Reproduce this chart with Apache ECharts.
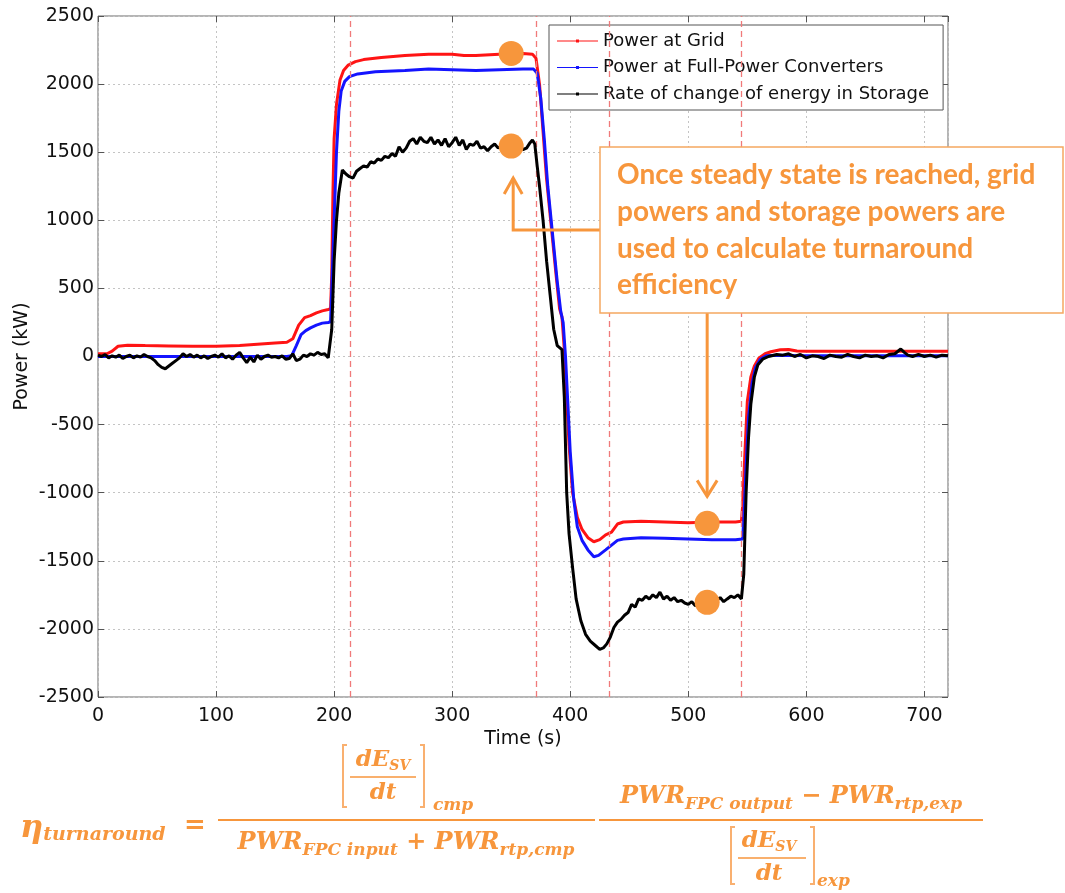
<!DOCTYPE html>
<html><head><meta charset="utf-8">
<script src="https://cdn.jsdelivr.net/npm/echarts@6/dist/echarts.min.js"></script>
<style>html,body{margin:0;padding:0;background:#fff}#c{width:1065px;height:893px}</style>
</head><body><div id="c"></div>
<script>
// ---------------- DATA ----------------
const seriesNames = ['Power at Grid', 'Power at Full-Power Converters', 'Rate of change of energy in Storage'];
// [time (s), power (kW)]
const gridPower = [[0,20],[8,22],[12,40],[17,75],[25,82],[40,80],[60,78],[80,75],[100,75],[120,80],[135,90],[150,100],[160,105],[165,130],[170,230],[175,285],[180,300],[185,320],[190,335],[195,345],[197,350],[198,600],[199,1200],[200,1600],[202,1850],[205,2030],[208,2100],[212,2140],[218,2165],[225,2180],[240,2195],[260,2210],[280,2220],[300,2220],[310,2210],[320,2210],[340,2220],[360,2225],[368,2220],[371,2190],[374,2000],[377,1650],[380,1300],[384,950],[388,600],[391,350],[393,290],[395,50],[397,-300],[399,-650],[402,-1000],[406,-1180],[410,-1270],[415,-1330],[420,-1360],[425,-1345],[430,-1310],[435,-1290],[440,-1230],[445,-1215],[460,-1210],[480,-1215],[500,-1220],[520,-1215],[540,-1215],[545,-1210],[546,-1100],[548,-700],[550,-330],[553,-150],[556,-70],[560,-10],[565,20],[570,35],[578,50],[585,52],[592,40],[600,38],[650,38],[700,38],[720,38]];
const converterPower = [[0,0],[160,0],[164,5],[168,80],[172,160],[176,190],[180,210],[185,230],[190,245],[195,250],[197,255],[198,500],[200,1000],[202,1500],[204,1800],[206,1950],[209,2020],[213,2055],[220,2075],[235,2090],[260,2100],[280,2110],[300,2105],[320,2100],[340,2105],[360,2110],[369,2110],[372,2080],[375,1900],[378,1600],[381,1250],[385,900],[389,550],[392,330],[394,250],[396,0],[398,-350],[400,-700],[403,-1050],[406,-1250],[410,-1350],[415,-1420],[420,-1470],[424,-1460],[430,-1420],[435,-1385],[440,-1350],[445,-1340],[460,-1330],[480,-1335],[500,-1340],[520,-1345],[540,-1345],[546,-1340],[547,-1200],[549,-800],[551,-450],[554,-200],[557,-80],[561,-20],[566,5],[575,10],[590,8],[620,5],[700,5],[720,5]];
const storagePower = [[0,10],[3,0],[6,15],[9,-10],[12,5],[15,-5],[18,10],[21,-15],[24,0],[27,10],[30,-10],[33,5],[36,-5],[39,15],[42,0],[45,-10],[48,-30],[51,-60],[54,-80],[57,-90],[60,-70],[63,-50],[66,-30],[69,-10],[72,20],[75,0],[78,15],[81,-5],[84,10],[87,-10],[90,5],[93,-15],[96,0],[99,10],[102,-5],[105,20],[108,-10],[111,5],[114,-20],[117,10],[120,30],[123,-10],[126,-45],[129,-5],[132,-40],[135,10],[138,-20],[141,0],[144,10],[147,-5],[150,0],[153,-10],[156,5],[159,-20],[162,-15],[165,20],[168,-30],[171,-20],[174,10],[177,0],[180,20],[183,10],[186,30],[189,15],[192,20],[195,-10],[196,0],[198,200],[200,700],[202,1000],[204,1200],[207,1370],[210,1340],[213,1320],[216,1310],[219,1360],[222,1380],[225,1400],[228,1390],[231,1430],[234,1420],[237,1450],[240,1440],[243,1470],[246,1460],[249,1490],[252,1470],[255,1540],[258,1500],[261,1530],[264,1580],[267,1600],[270,1560],[273,1610],[276,1580],[279,1570],[282,1610],[285,1560],[288,1590],[291,1550],[294,1600],[297,1540],[300,1570],[303,1610],[306,1550],[309,1590],[312,1520],[315,1560],[318,1550],[321,1580],[324,1530],[327,1540],[330,1510],[333,1540],[336,1560],[339,1530],[342,1550],[345,1540],[348,1560],[351,1550],[354,1580],[357,1540],[360,1520],[363,1530],[366,1570],[368,1590],[370,1560],[372,1400],[374,1250],[377,1000],[380,700],[383,450],[386,200],[389,80],[391,65],[393,50],[395,-300],[397,-1000],[399,-1300],[402,-1550],[405,-1780],[409,-1940],[413,-2040],[417,-2090],[421,-2120],[425,-2150],[428,-2140],[431,-2110],[434,-2060],[437,-1990],[440,-1950],[443,-1930],[446,-1900],[449,-1880],[452,-1820],[455,-1840],[458,-1780],[461,-1790],[464,-1760],[467,-1780],[470,-1750],[473,-1770],[476,-1730],[479,-1780],[482,-1760],[485,-1790],[488,-1770],[491,-1800],[494,-1790],[497,-1810],[500,-1820],[503,-1800],[506,-1830],[509,-1810],[512,-1820],[515,-1800],[518,-1810],[521,-1800],[524,-1790],[527,-1770],[530,-1800],[533,-1780],[536,-1760],[539,-1770],[542,-1750],[545,-1780],[547,-1600],[549,-1000],[551,-600],[553,-350],[556,-150],[559,-60],[563,-20],[568,0],[575,15],[580,10],[585,20],[590,0],[595,15],[600,-10],[605,5],[610,0],[615,-15],[620,10],[625,0],[630,-5],[635,15],[640,0],[645,-10],[650,10],[655,0],[660,5],[665,-10],[670,15],[675,20],[680,55],[683,30],[686,10],[690,0],[695,15],[700,0],[705,10],[710,-5],[715,10],[720,5]];
// Stage boundaries (red dashed lines), s
const stageTimes = [214, 371, 433, 545];
// Steady-state points used for the efficiency calculation
const steadyPoints = [[350, 2225], [350, 1545], [516, -1225], [516, -1805]];
const xMin = 0, xMax = 720, xStep = 100;
const yMin = -2500, yMax = 2500, yStep = 500;
const calloutLines = ['Once steady state is reached, grid', 'powers and storage powers are', 'used to calculate turnaround', 'efficiency'];

// ---------------- CHART ----------------
const ORANGE = '#F7963C';
const AX_FONT = 'DejaVu Sans';
const chart = echarts.init(document.getElementById('c'));
const plainNum = v => String(v);
function xAx(pos, main) {
  return {
    type: 'value', min: xMin, max: xMax, interval: xStep, position: pos,
    axisLine: {show: false, onZero: false},
    axisTick: {show: true, inside: true, length: 6, lineStyle: {color: '#555'}},
    axisLabel: main ? {show: true, fontFamily: AX_FONT, fontSize: 19, color: '#111', margin: 10, showMaxLabel: false, formatter: plainNum} : {show: false},
    splitLine: main ? {show: true, lineStyle: {type: [2, 3], color: '#c4c4c4', width: 1}} : {show: false},
    name: main ? 'Time (s)' : '', nameLocation: 'middle', nameGap: 33, nameMoveOverlap: false,
    nameTextStyle: {fontFamily: AX_FONT, fontSize: 19, color: '#111'}
  };
}
function yAx(pos, main) {
  return {
    type: 'value', min: yMin, max: yMax, interval: yStep, position: pos,
    axisLine: {show: false, onZero: false},
    axisTick: {show: true, inside: true, length: 6, lineStyle: {color: '#555'}},
    axisLabel: main ? {show: true, fontFamily: AX_FONT, fontSize: 19, color: '#111', margin: 4, formatter: plainNum} : {show: false},
    splitLine: main ? {show: true, lineStyle: {type: [2, 3], color: '#c4c4c4', width: 1}} : {show: false},
    name: main ? 'Power (kW)' : '', nameLocation: 'middle', nameGap: 66, nameMoveOverlap: false,
    nameTextStyle: {fontFamily: AX_FONT, fontSize: 19, color: '#111'}
  };
}
function lineSeries(name, data, color, z, extra) {
  return Object.assign({
    name, type: 'line', data, showSymbol: false, symbol: 'circle', symbolSize: 3,
    lineStyle: {color, width: 3}, itemStyle: {color}, z, silent: true
  }, extra || {});
}
const legendIcon = 'path://M0,1.4h41v1.2h-41z M19,0.5h3v3h-3z';
const option = {
  animation: false,
  backgroundColor: '#fff',
  grid: {left: 98, top: 16, right: 117, bottom: 196, show: true, borderColor: '#6a6a6a', borderWidth: 1, containLabel: false, outerBoundsMode: 'none'},
  xAxis: [xAx('bottom', true), xAx('top', false)],
  yAxis: [yAx('left', true), yAx('right', false)],
  legend: {
    data: seriesNames.map(n => ({name: n, icon: legendIcon})), orient: 'vertical', left: 549, top: 25,
    padding: [6, 14, 6, 8], itemGap: 6.5, itemWidth: 41, itemHeight: 3,
    backgroundColor: '#fff', borderColor: '#555', borderWidth: 1,
    textStyle: {fontFamily: AX_FONT, fontSize: 18, color: '#111', lineHeight: 20}
  },
  series: [
    lineSeries(seriesNames[0], gridPower, '#ff1414', 3, {
      markLine: {silent: true, symbol: 'none', label: {show: false},
        lineStyle: {color: '#f07a7a', type: [6, 4], width: 1.3},
        data: stageTimes.map(t => ({xAxis: t}))}
    }),
    lineSeries(seriesNames[1], converterPower, '#1414ff', 4),
    lineSeries(seriesNames[2], storagePower, '#000000', 5),
    {type: 'scatter', data: steadyPoints, symbolSize: 25, itemStyle: {color: ORANGE, opacity: 1}, z: 10, silent: true}
  ]
};
chart.setOption(option);

// ---------------- ANNOTATIONS ----------------
const mctx = document.createElement('canvas').getContext('2d');
function tw(t, font) { mctx.font = font; return mctx.measureText(t).width; }
const g = [];
// callout box
const box = {x: 600, y: 147, w: 463, h: 166};
g.push({type: 'rect', shape: {x: box.x, y: box.y, width: box.w, height: box.h}, style: {fill: '#fff', stroke: '#F5A860', lineWidth: 1.5}, z: 100});
const calloutFam = 'Lato';
let cfs = 24;
const target = 418;
cfs = Math.round(cfs * target / tw(calloutLines[0], `bold ${cfs}px ${calloutFam}`) * 10) / 10;
calloutLines.forEach((t, i) => {
  g.push({type: 'text', x: 617, y: 175 + i * 36.8, z: 101,
    style: {text: t, fill: ORANGE, font: `bold ${cfs}px ${calloutFam}`, verticalAlign: 'middle', align: 'left'}});
});
// arrows (anchored to steady-state markers)
const pTop = chart.convertToPixel({gridIndex: 0}, steadyPoints[1]);
const pBot = chart.convertToPixel({gridIndex: 0}, steadyPoints[2]);
const arrowStyle = {stroke: ORANGE, lineWidth: 3, fill: null, lineJoin: 'miter'};
const a1x = pTop[0] + 2, a1tip = pTop[1] + 32;
g.push({type: 'polyline', z: 99, shape: {points: [[box.x, 230], [a1x, 230], [a1x, a1tip]]}, style: arrowStyle});
g.push({type: 'polyline', z: 99, shape: {points: [[a1x - 9, a1tip + 16], [a1x, a1tip], [a1x + 9, a1tip + 16]]}, style: arrowStyle});
const a2x = pBot[0], a2tip = pBot[1] - 27;
g.push({type: 'polyline', z: 99, shape: {points: [[a2x, box.y + box.h], [a2x, a2tip]]}, style: arrowStyle});
g.push({type: 'polyline', z: 99, shape: {points: [[a2x - 10, a2tip - 16], [a2x, a2tip], [a2x + 10, a2tip - 16]]}, style: arrowStyle});

// ---------------- FORMULA ----------------
const MF = '"DejaVu Serif", serif';
const mf = s => `italic bold ${s}px ${MF}`;
function run(pieces, x, cy, anchor) {
  let w = 0; pieces.forEach(p => w += tw(p[0], mf(p[1])));
  let cx = anchor === 'center' ? x - w / 2 : x;
  pieces.forEach(p => {
    g.push({type: 'text', x: cx, y: cy + p[2], z: 50, style: {text: p[0], font: mf(p[1]), fill: ORANGE, verticalAlign: 'middle', align: 'left'}});
    cx += tw(p[0], mf(p[1]));
  });
  return w;
}
function hline(x1, x2, y, lw) { g.push({type: 'line', z: 50, shape: {x1, y1: y, x2, y2: y}, style: {stroke: ORANGE, lineWidth: lw || 2}}); }
function bracket(x1, x2, y1, y2) {
  const s = {stroke: '#F9B070', lineWidth: 2, fill: null};
  g.push({type: 'polyline', z: 50, shape: {points: [[x1 + 4, y1], [x1, y1], [x1, y2], [x1 + 4, y2]]}, style: s});
  g.push({type: 'polyline', z: 50, shape: {points: [[x2 - 4, y1], [x2, y1], [x2, y2], [x2 - 4, y2]]}, style: s});
}
function dEdt(cx, lineY, x1, x2, top, bot, sub, subX, subY) {
  run([['dE', 23, 0], ['SV', 14, 6]], cx, lineY - 17, 'center');
  run([['dt', 23, 0]], cx, lineY + 16, 'center');
  hline(x1, x2, lineY, 1.5);
  bracket(x1 - 7, x2 + 8, top, bot);
  run([[sub, 17, 0]], subX, subY, 'left');
}
run([['η', 32, 0], ['turnaround', 19, 6]], 20, 829, 'left');
run([['=', 26, 0]], 184, 826, 'left');
hline(218, 595, 820, 2);
dEdt(383, 777, 350, 416, 745, 807, 'cmp', 433, 806);
run([['PWR', 24, 0], ['FPC input', 17, 8], [' + PWR', 24, 0], ['rtp,cmp', 17, 8]], 406, 843, 'center');
hline(599, 983, 820, 2);
run([['PWR', 24, 0], ['FPC output', 17, 8], [' − PWR', 24, 0], ['rtp,exp', 17, 8]], 791, 797, 'center');
dEdt(769, 858, 738, 806, 827, 884, 'exp', 817, 882);

chart.setOption({graphic: g});
</script>
</body></html>
